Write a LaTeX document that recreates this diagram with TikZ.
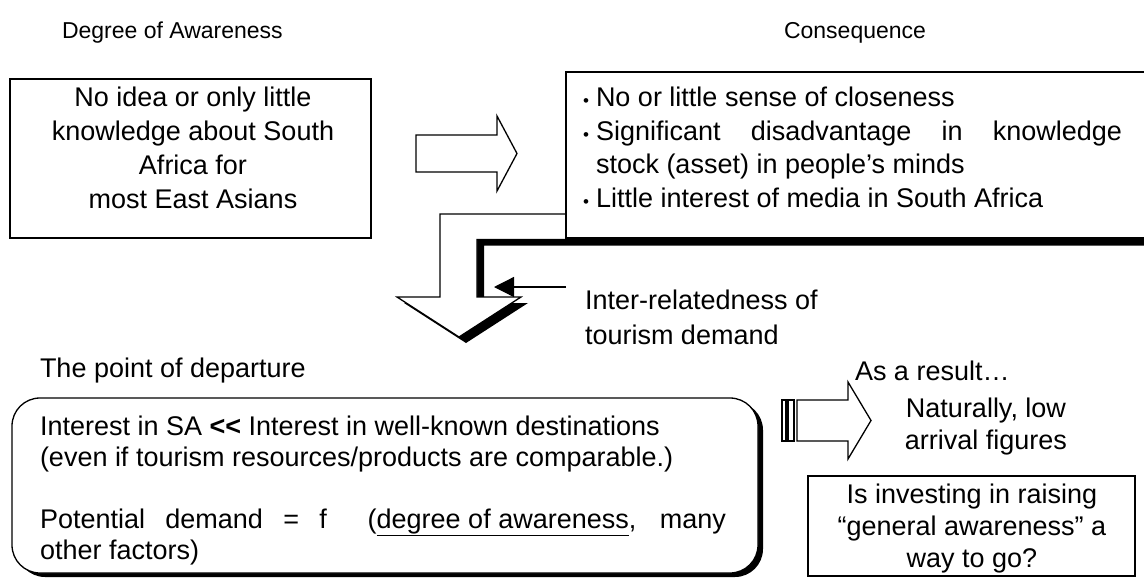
\documentclass[tikz,border=0pt]{standalone}
\usepackage{fontspec}
\setmainfont{Liberation Sans}
\usetikzlibrary{arrows.meta}
\newcommand{\listbullet}{\makebox[13pt][l]{\fontsize{17}{17}\selectfont •}}
\begin{document}
\begin{tikzpicture}[x=1pt, y=-1pt,
  frame/.style={draw=black, fill=white, line width=1.3pt, inner sep=0pt, outer sep=0pt},
  words/.style={inner sep=0pt, outer sep=0pt, font=\fontsize{27}{34}\selectfont},
  heading/.style={inner sep=0pt, outer sep=0pt, font=\fontsize{23}{28}\selectfont},
  blockarrow/.style={draw=black, fill=white, line width=1.3pt, line join=miter},
  shade/.style={fill=black, draw=none},
  pointer/.style={draw=black, line width=1.3pt, -{Triangle[length=20pt,width=20pt]}}]

\useasboundingbox (0,0) rectangle (1144,579);
\clip (0,0) rectangle (1144,579);
\fill[white] (0,0) rectangle (1144,579);

% column headings
\node[heading, anchor=base west] (hdeg) at (62,38) {Degree of Awareness};
\node[heading, anchor=base] (hcon) at (855,38) {Consequence};

% awareness box
\node[frame, anchor=north west, minimum width=361pt, minimum height=159pt] (aware) at (10,79) {};
\node[words, align=center] (awaretext) at (193,148)
  {No idea or only little\\knowledge about South\\Africa for\\most East Asians};

% hollow arrow between the two upper boxes
\draw[blockarrow] (416,135) -- (497,135) -- (497,116) -- (517,153.5) -- (497,191)
  -- (497,172) -- (416,172) -- cycle;

% bent arrow running under the consequence box and down, with its shadow
\begin{scope}[shift={(7,6)}]
  \fill[shade] (1170,214) -- (440,214) -- (440,297) -- (397,297) -- (459,337)
    -- (521,297) -- (477,297) -- (477,239.5) -- (1170,239.5) -- cycle;
\end{scope}
\draw[blockarrow] (1170,214) -- (440,214) -- (440,297) -- (397,297) -- (459,337)
  -- (521,297) -- (477,297) -- (477,239.5) -- (1170,239.5) -- cycle;

% consequence box
\node[frame, anchor=north west, minimum width=600pt, minimum height=166pt] (conseq) at (566,72) {};
\node[words, align=left, anchor=north west, font=\fontsize{27}{33.7}\selectfont] (conseqtext) at (583,87)
  {\listbullet No or little sense of closeness\\
   \listbullet\makebox[526pt][s]{Significant disadvantage in knowledge}\\
   \hspace*{13pt}stock (asset) in people’s minds\\
   \listbullet Little interest of media in South Africa};

% label and pointer for the inter-relatedness remark
\node[words, align=left, anchor=north west, font=\fontsize{27}{35}\selectfont] (interrel) at (585,290)
  {Inter-relatedness of\\tourism demand};
\coordinate (ptrstart) at (566,287);
\coordinate (ptrend) at (494,287);
\draw[pointer] (ptrstart) -- (ptrend);

% point of departure
\node[words, anchor=base west] (hdepart) at (40,377) {The point of departure};
\fill[shade, rounded corners=28pt] (17,402) rectangle (763,577);
\node[frame, rounded corners=28pt, anchor=north west, minimum width=746pt, minimum height=175pt] (depart) at (12,398) {};
\node[words, align=left, anchor=north west, font=\fontsize{27}{31}\selectfont] (departtext) at (40,416)
  {Interest in SA \textbf{<\kern0pt<} Interest in well-known destinations\\
   (even if tourism resources/products are comparable.)\\[31pt]
   \makebox[686pt][s]{Potential demand = f~~(\underline{degree of awareness}, many}\\
   other factors)};

% result arrow with its two stripes
\node[words, anchor=base west] (hresult) at (855,380) {As a result…};
\draw[blockarrow, line width=1.1pt] (782,400) rectangle (786,441);
\draw[blockarrow, line width=1.1pt] (788,400) rectangle (794,441);
\draw[blockarrow] (797,400) -- (848,400) -- (848,382) -- (871,420.5) -- (848,459)
  -- (848,441) -- (797,441) -- cycle;
\node[words, align=center, anchor=north, font=\fontsize{27}{32}\selectfont] (arrivals) at (986,398)
  {Naturally, low\\arrival figures};

% closing question
\node[frame, anchor=north west, minimum width=327pt, minimum height=100pt] (question) at (808,476) {};
\node[words, align=center, anchor=north, font=\fontsize{27}{32}\selectfont] (questiontext) at (972,484)
  {Is investing in raising\\“general awareness” a\\way to go?};
\end{tikzpicture}
\end{document}
